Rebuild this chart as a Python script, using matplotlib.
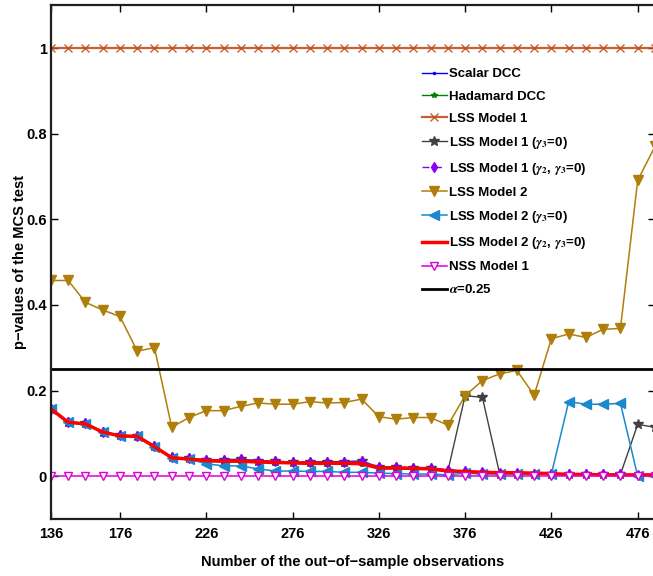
import matplotlib
matplotlib.use('Agg')
import matplotlib.pyplot as plt

plt.rcParams['font.family'] = ['Liberation Sans', 'DejaVu Sans']
plt.rcParams['font.weight'] = 'bold'
plt.rcParams['mathtext.fontset'] = 'stix'

# out-of-sample sizes
n_obs = [136, 146, 156, 166, 176, 186, 196, 206, 216, 226, 236, 246,
         256, 266, 276, 286, 296, 306, 316, 326, 336, 346, 356, 366,
         376, 386, 396, 406, 416, 426, 436, 446, 456, 466, 476, 486]

scalar_dcc = [0.156, 0.125, 0.121, 0.102, 0.093, 0.092, 0.068, 0.042, 0.039, 0.035, 0.034, 0.034,
              0.032, 0.031, 0.030, 0.029, 0.029, 0.029, 0.028, 0.018, 0.018, 0.017, 0.016, 0.011,
              0.010, 0.008, 0.007, 0.007, 0.006, 0.005, 0.003, 0.003, 0.003, 0.003, 0.003, 0.003]
hadamard_dcc = [0.156, 0.125, 0.121, 0.102, 0.093, 0.092, 0.068, 0.042, 0.039, 0.035, 0.034, 0.034,
                0.032, 0.031, 0.030, 0.029, 0.029, 0.029, 0.028, 0.018, 0.018, 0.017, 0.016, 0.011,
                0.010, 0.008, 0.007, 0.007, 0.006, 0.005, 0.003, 0.003, 0.003, 0.003, 0.003, 0.003]
lss1 = [1.0] * 36
lss1_g3 = [0.158, 0.127, 0.123, 0.104, 0.095, 0.094, 0.070, 0.044, 0.042, 0.038, 0.038, 0.040,
           0.036, 0.035, 0.033, 0.033, 0.034, 0.034, 0.035, 0.022, 0.021, 0.020, 0.020, 0.012,
           0.188, 0.184, 0.006, 0.006, 0.005, 0.005, 0.004, 0.004, 0.004, 0.004, 0.121, 0.114]
lss1_g23 = [0.158, 0.127, 0.123, 0.104, 0.095, 0.094, 0.070, 0.044, 0.042, 0.038, 0.038, 0.040,
            0.036, 0.035, 0.033, 0.033, 0.034, 0.034, 0.035, 0.022, 0.021, 0.020, 0.020, 0.015,
            0.012, 0.010, 0.008, 0.007, 0.006, 0.005, 0.004, 0.004, 0.004, 0.004, 0.003, 0.003]
lss2 = [0.457, 0.457, 0.406, 0.388, 0.373, 0.292, 0.300, 0.114, 0.137, 0.153, 0.153, 0.163,
        0.171, 0.168, 0.168, 0.174, 0.171, 0.172, 0.180, 0.139, 0.133, 0.137, 0.137, 0.119,
        0.188, 0.223, 0.239, 0.247, 0.189, 0.321, 0.332, 0.324, 0.343, 0.345, 0.691, 0.770]
lss2_g3 = [0.158, 0.126, 0.122, 0.103, 0.094, 0.093, 0.069, 0.042, 0.040, 0.029, 0.024, 0.024,
           0.017, 0.012, 0.012, 0.011, 0.011, 0.009, 0.009, 0.007, 0.006, 0.005, 0.005, 0.003,
           0.007, 0.005, 0.005, 0.005, 0.004, 0.005, 0.174, 0.168, 0.168, 0.170, 0.000, 0.000]
lss2_g23 = [0.157, 0.126, 0.122, 0.103, 0.094, 0.093, 0.069, 0.043, 0.040, 0.036, 0.035, 0.035,
            0.033, 0.032, 0.031, 0.030, 0.030, 0.030, 0.029, 0.019, 0.019, 0.018, 0.017, 0.012,
            0.011, 0.009, 0.008, 0.008, 0.007, 0.006, 0.004, 0.004, 0.003, 0.003, 0.003, 0.003]
nss1 = [0.0] * 36
alpha = 0.25

xticks = [136, 176, 226, 276, 326, 376, 426, 476]
yticks = [0, 0.2, 0.4, 0.6, 0.8, 1]

fig = plt.figure(figsize=(6.53, 5.76), dpi=100)
ax = fig.add_axes([0.078, 0.099, 0.925, 0.892])

ax.plot(n_obs, scalar_dcc, color='#0000ff', marker='.', markersize=3, lw=1, label='Scalar DCC')
ax.plot(n_obs, hadamard_dcc, color='#008000', marker='*', markersize=4, lw=1, label='Hadamard DCC')
ax.plot(n_obs, lss1, color='#c0501e', marker='x', markersize=5.5, mew=1, lw=1.6, alpha=0.9,
        label='LSS Model 1')
ax.plot(n_obs, lss1_g3, color='#404040', marker='*', markersize=7, lw=1, label=r'LSS Model 1 ($\gamma_3$=0)')
ax.plot(n_obs, lss1_g23, color='#8a00f0', marker='d', markersize=5.5, lw=1, ls=(0, (5, 4)),
        label=r'LSS Model 1 ($\gamma_2$, $\gamma_3$=0)')
ax.plot(n_obs, lss2, color='#b07e0a', marker='v', markersize=7, lw=1.1, label='LSS Model 2')
ax.plot(n_obs, lss2_g3, color='#1a88cc', marker='<', markersize=7, lw=1.1, label=r'LSS Model 2 ($\gamma_3$=0)')
ax.plot(n_obs, lss2_g23, color='#ff0000', lw=2.5, label=r'LSS Model 2 ($\gamma_2$, $\gamma_3$=0)')
ax.plot(n_obs, nss1, color='#dd00dd', marker='v', markersize=5.5, mfc='white', lw=1.1, label='NSS Model 1')
ax.axhline(alpha, color='black', lw=2, label=r'$\alpha$=0.25')

ax.set_xlim(136, 486)
ax.set_ylim(-0.1, 1.1)
ax.set_xticks(xticks)
ax.set_yticks(yticks)
ax.set_yticklabels(['0', '0.2', '0.4', '0.6', '0.8', '1'])
ax.tick_params(direction='in', length=5, width=1, top=True, right=True, labelsize=10.5)
ax.tick_params(axis='y', pad=3)
ax.tick_params(axis='x', pad=6)
for s in ax.spines.values():
    s.set_linewidth(1.6)
    s.set_color('#202020')

ax.set_xlabel('Number of the out\u2212of\u2212sample observations', fontsize=10.5, fontweight='bold', labelpad=10)
ax.set_ylabel('p\u2212values of the MCS test', fontsize=10.5, fontweight='bold')
ax.yaxis.set_label_coords(-0.04, 0.5)

leg = ax.legend(loc='upper left', bbox_to_anchor=(0.605, 0.888), frameon=False, fontsize=9.5,
                handlelength=1.9, handletextpad=0.2, labelspacing=0.76, borderaxespad=0)
for t in leg.get_texts():
    t.set_fontweight('bold')

fig.savefig('out.png', dpi=100)
